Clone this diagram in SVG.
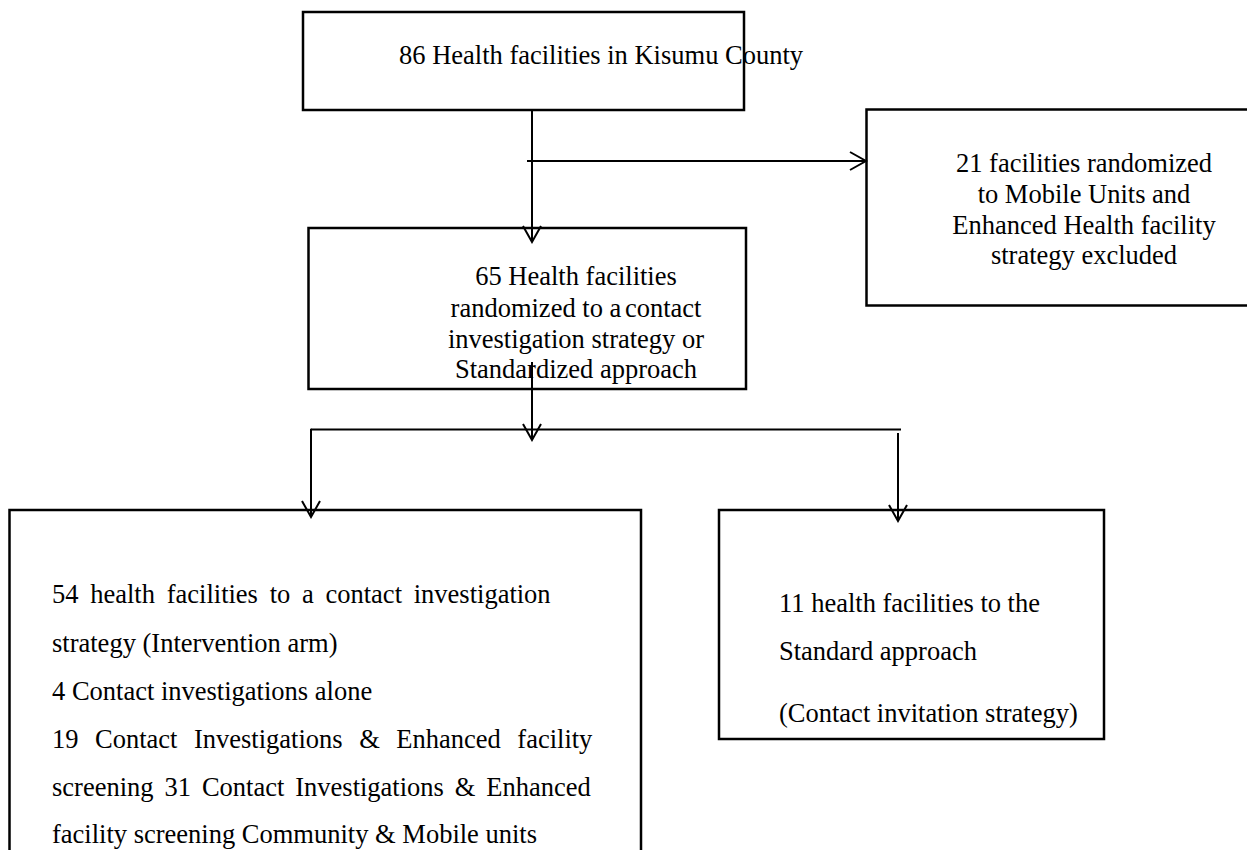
<svg xmlns="http://www.w3.org/2000/svg" width="1247" height="850" viewBox="0 0 1247 850">
<style>
.box{fill:#fff;stroke:#000;stroke-width:2.5}
.t{font-family:"Liberation Serif","Times New Roman",serif;font-size:26.5px;fill:#000}
.c{text-anchor:middle}
.ln{fill:none;stroke:#000;stroke-width:2}
</style>
<defs>
<marker id="v" markerUnits="userSpaceOnUse" markerWidth="20" markerHeight="20" viewBox="0 0 20 20" refX="18" refY="10" orient="auto">
<path d="M2,1 L18,10 L2,19" fill="none" stroke="#000" stroke-width="2"/>
</marker>
</defs>
<rect width="1247" height="850" fill="#fff"/>
<g id="n1">
<rect class="box" x="303" y="12" width="441" height="98"/>
<text class="t" x="399" y="64">86 Health facilities in Kisumu County</text>
</g>
<g id="n2">
<rect class="box" x="866.5" y="109.5" width="390" height="196"/>
<text class="t c" x="1084" y="172">21 facilities randomized</text>
<text class="t c" x="1084" y="203">to Mobile Units and</text>
<text class="t c" x="1084" y="234">Enhanced Health facility</text>
<text class="t c" x="1084" y="264">strategy excluded</text>
</g>
<g id="n3">
<rect class="box" x="308.5" y="228" width="437.5" height="161"/>
<text class="t c" x="576" y="285">65 Health facilities</text>
<text class="t c" x="576" y="317">randomized to a<tspan dx="-3"> contact</tspan></text>
<text class="t c" x="576" y="348">investigation strategy or</text>
<text class="t c" x="576" y="378">Standardized approach</text>
</g>
<g id="n4">
<rect class="box" x="9.5" y="510" width="631.5" height="360"/>
<text class="t" x="52" y="603" word-spacing="5.1">54 health facilities to a contact investigation</text>
<text class="t" x="52" y="652">strategy (Intervention arm)</text>
<text class="t" x="52" y="700">4 Contact investigations alone</text>
<text class="t" x="52" y="748" word-spacing="9.9">19 Contact Investigations &amp; Enhanced facility</text>
<text class="t" x="52" y="796" word-spacing="4.3">screening 31 Contact Investigations &amp; Enhanced</text>
<text class="t" x="52" y="843">facility screening Community &amp; Mobile units</text>
</g>
<g id="n5">
<rect class="box" x="719" y="510" width="385" height="229"/>
<text class="t" x="779" y="612">11 health facilities to the</text>
<text class="t" x="779" y="660">Standard approach</text>
<text class="t" x="779" y="722">(Contact invitation strategy)</text>
</g>
<g id="connectors">
<line class="ln" x1="532" y1="110" x2="532" y2="242" marker-end="url(#v)"/>
<line class="ln" x1="527" y1="161" x2="866" y2="161" marker-end="url(#v)"/>
<line class="ln" x1="532" y1="362" x2="532" y2="440" marker-end="url(#v)"/>
<line class="ln" x1="311" y1="429.5" x2="901" y2="429.5" stroke-width="1.6"/>
<line class="ln" x1="311" y1="428.7" x2="311" y2="517" marker-end="url(#v)"/>
<line class="ln" x1="898" y1="433" x2="898" y2="521" marker-end="url(#v)"/>
</g>
</svg>
